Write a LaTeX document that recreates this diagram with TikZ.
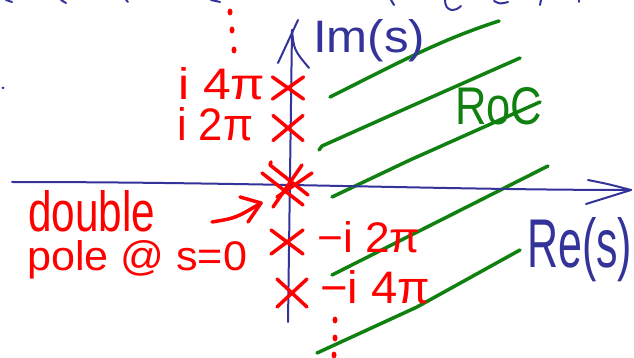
\documentclass[tikz,border=0pt]{standalone}
\usepackage{fontspec}
\setmainfont{Liberation Sans}
\usetikzlibrary{shapes.misc,shapes.geometric}
\definecolor{hred}{RGB}{255,0,0}
\definecolor{hblue}{RGB}{51,51,153}
\definecolor{hgreen}{RGB}{16,128,16}
\begin{document}
\begin{tikzpicture}[x=1pt,y=-1pt,
  axis/.style={hblue, line width=2pt, line cap=round, line join=round},
  roc/.style={hgreen, line width=3.5pt, line cap=round, line join=round},
  xmark/.style={cross out, draw=hred, line width=3.5pt, line cap=round, inner sep=0pt, outer sep=0pt},
  rstroke/.style={hred, line width=3.5pt, line cap=round, line join=round},
  lbl/.style={inner sep=0pt, anchor=base west},
  dotm/.style={ellipse, fill=hred, inner sep=0pt, minimum width=5pt, minimum height=7pt},
  bdot/.style={circle, fill=hblue, inner sep=0pt, minimum size=3pt}
]
\useasboundingbox (0,0) rectangle (634,358);

% ROC hatching
\draw[roc] (330,97) .. controls (400,62) and (440,40) .. (499,21);
\draw[roc] (319,150) -- (322,146) -- (407,108) -- (520,58);
\draw[roc] (332,197) -- (410,160) -- (540,102);
\draw[roc] (332,275) -- (548,166);
\draw[roc] (317,353) -- (417,307) -- (520,250);
\node[lbl,hgreen] (roclbl) at (455,125) {\resizebox{87pt}{37pt}{RoC}};

% axes
\coordinate (xl) at (12,182);
\coordinate (xr) at (631,190);
\draw[axis] (xl) .. controls (250,182) and (450,190) .. (xr);
\coordinate (xh1) at (588,180);
\coordinate (xh2) at (586,204);
\draw[axis] (xh1) .. controls (608,184) .. (xr) -- (xh2);
\coordinate (yb) at (288,322);
\coordinate (yt) at (292,30);
\draw[axis] (yb) -- (yt);
\coordinate (yh1) at (278,63);
\coordinate (ytip) at (298,20);
\coordinate (yh2) at (309,68);
\draw[axis] (yh1) -- (ytip);
\draw[axis] (yt) .. controls (294,50) .. (yh2);
\node[lbl,hblue] (im) at (313,53) {\resizebox{112pt}{33pt}{Im(s)}};
\node[lbl,hblue] (re) at (527,267) {\resizebox{105pt}{50pt}{Re(s)}};

% cut-off blue strokes at the top edge
\draw[axis] (445,0) .. controls (445,12) and (455,12) .. (461,6);
\draw[axis] (494,1) .. controls (500,4) .. (508,2);
\draw[axis] (541,0) -- (540,5);
\draw[axis] (391,0) -- (394,5);
\draw[axis] (579,0) -- (579,2);
\draw[axis] (6,0) -- (12,2);
\draw[axis] (61,0) -- (66,3);
\draw[axis] (126,0) -- (128,2);
\draw[axis] (211,0) -- (220,2);
\node[bdot] (bd) at (3,88) {};

% poles
\node[xmark, minimum width=31pt, minimum height=22pt] (p4) at (288,88) {};
\node[xmark, minimum width=30pt, minimum height=25pt] (p2) at (288,128) {};
\node[xmark, minimum width=32pt, minimum height=24pt] (m2) at (287,242) {};
\node[xmark, minimum width=30pt, minimum height=28pt] (m4) at (292,293) {};
\coordinate (p0) at (288,184);
\draw[rstroke] (262,173) -- (303,205);
\draw[rstroke] (271,162) -- (270,165) -- (308,195);
\draw[rstroke] (273,207) -- (302,165);
\draw[rstroke] (277,197) -- (312,173);

% labels
\node[lbl,hred] (l4) at (178,100) {\resizebox{87pt}{32pt}{i 4π}};
\node[lbl,hred] (l2) at (177,141) {\resizebox{76pt}{33pt}{i 2π}};
\node[lbl,hred] (lm2) at (317,252) {\resizebox{103pt}{31pt}{−i 2π}};
\node[lbl,hred] (lm4) at (320,303) {\resizebox{110pt}{33pt}{−i 4π}};
\node[lbl,hred] (dbl) at (28,231) {\resizebox{127pt}{41pt}{double}};
\node[lbl,hred] (pole) at (27,270) {\resizebox{220pt}{30pt}{pole @ s=0}};

% arrow to the double pole
\coordinate (aS) at (212,222);
\coordinate (aE) at (261,203);
\draw[rstroke] (aS) .. controls (236,218) .. (aE);
\draw[rstroke] (240,197) -- (aE) -- (248,222);

% ellipsis dots
\node[dotm] (dt1) at (230,12) {};
\node[dotm] (dt2) at (232,30) {};
\node[dotm] (dt3) at (234,50) {};
\node[dotm] (db1) at (335,320) {};
\node[dotm] (db2) at (335,338) {};
\node[dotm] (db3) at (334,355) {};
\end{tikzpicture}
\end{document}
